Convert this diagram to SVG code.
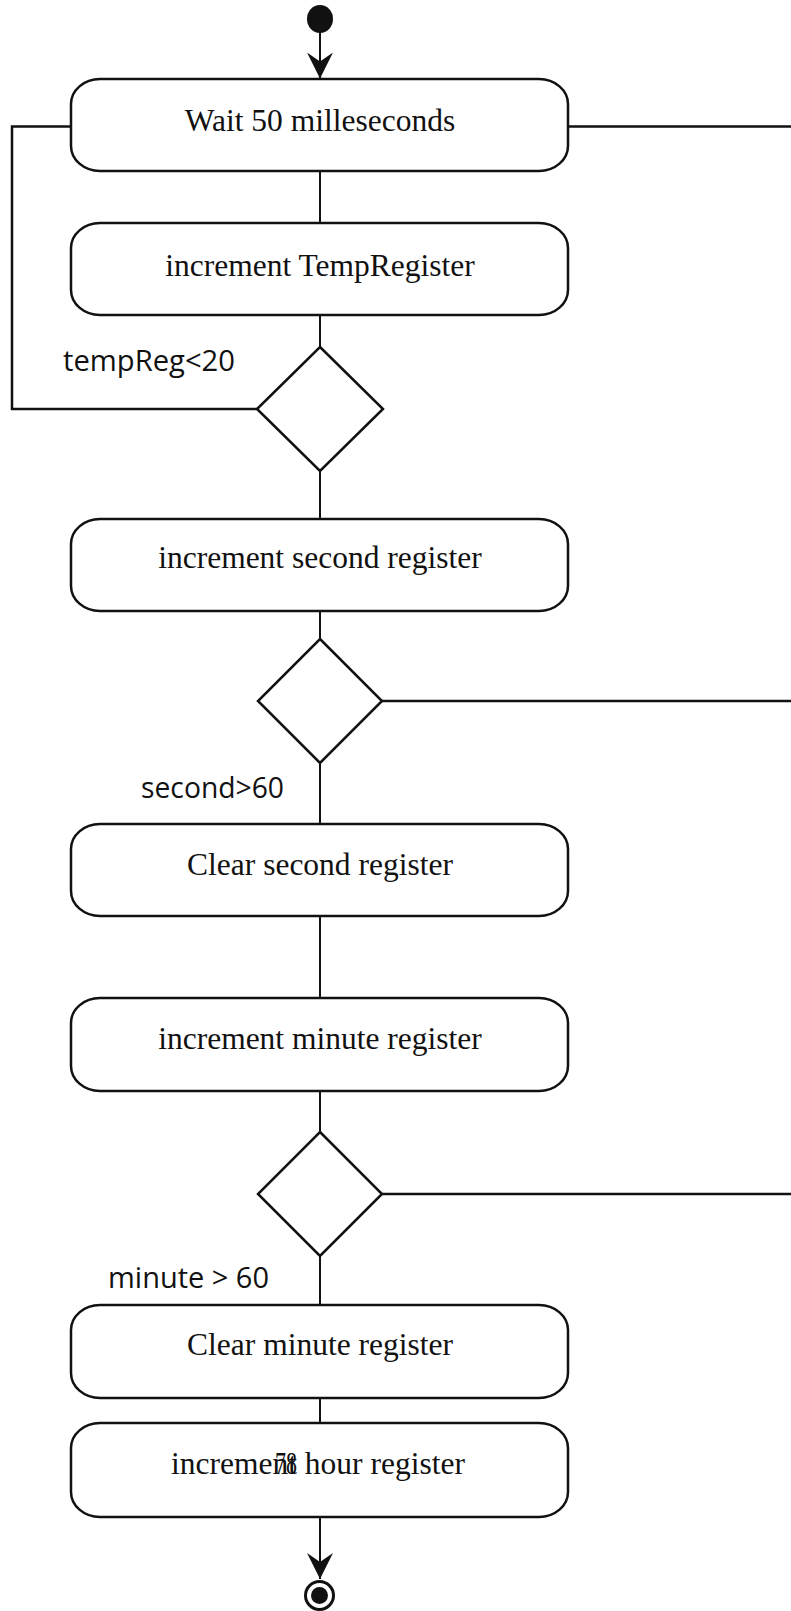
<svg xmlns="http://www.w3.org/2000/svg" width="791" height="1611" viewBox="0 0 791 1611">
  <style>
    .act { fill: #fff; stroke: #111; stroke-width: 2.5; }
    .dec { fill: #fff; stroke: #111; stroke-width: 2.5; }
    .wire { fill: none; stroke: #111; stroke-width: 2.5; }
    .flow { fill: none; stroke: #111; stroke-width: 2; }
    .lbl { font-family: "Liberation Serif", "Times New Roman", serif; font-size: 31.5px; fill: #111; text-anchor: middle; }
    .guard { font-family: "Open Sans", "Liberation Sans", sans-serif; font-size: 29px; fill: #111; }
  </style>
  <defs>
    <marker id="arrow" viewBox="0 -14 27 28" refX="26" refY="0" markerWidth="27" markerHeight="28" markerUnits="userSpaceOnUse" orient="auto">
      <path d="M0,-13 L26,0 L0,13 L9,0 Z" fill="#111"/>
    </marker>
  </defs>
  <rect width="791" height="1611" fill="#fff"/>

  <!-- connectors -->
  <g id="connectors">
    <line class="flow" x1="320" y1="32" x2="320" y2="78.5" marker-end="url(#arrow)"/>
    <line class="flow" x1="320" y1="171" x2="320" y2="223"/>
    <line class="flow" x1="320" y1="315" x2="320" y2="347"/>
    <line class="flow" x1="320" y1="471" x2="320" y2="519"/>
    <line class="flow" x1="320" y1="611" x2="320" y2="639"/>
    <line class="flow" x1="320" y1="763" x2="320" y2="824"/>
    <line class="flow" x1="320" y1="916" x2="320" y2="998"/>
    <line class="flow" x1="320" y1="1091" x2="320" y2="1132"/>
    <line class="flow" x1="320" y1="1256" x2="320" y2="1305"/>
    <line class="flow" x1="320" y1="1398" x2="320" y2="1423"/>
    <line class="flow" x1="320" y1="1517" x2="320" y2="1579" marker-end="url(#arrow)"/>
    <!-- loop back from the first decision to the wait step -->
    <polyline class="wire" points="257,409 12,409 12,126.5 71,126.5"/>
    <!-- exits running off to the right -->
    <line class="wire" x1="568" y1="126.5" x2="791" y2="126.5"/>
    <line class="wire" x1="382" y1="701" x2="791" y2="701"/>
    <line class="wire" x1="382" y1="1194" x2="791" y2="1194"/>
  </g>

  <g id="start">
    <ellipse cx="320" cy="19" rx="13" ry="14" fill="#111"/>
  </g>

  <g id="wait">
    <rect class="act" x="71" y="79" width="497" height="92" rx="29" ry="25"/>
    <text class="lbl" x="320" y="131">Wait 50 milleseconds</text>
  </g>

  <g id="incTemp">
    <rect class="act" x="71" y="223" width="497" height="92" rx="29" ry="25"/>
    <text class="lbl" x="320" y="276">increment TempRegister</text>
  </g>

  <g id="decTemp">
    <polygon class="dec" points="320,347 383,409 320,471 257,409"/>
    <text class="guard" x="63" y="371" textLength="172" lengthAdjust="spacingAndGlyphs">tempReg&lt;20</text>
  </g>

  <g id="incSecond">
    <rect class="act" x="71" y="519" width="497" height="92" rx="29" ry="25"/>
    <text class="lbl" x="320" y="568">increment second register</text>
  </g>

  <g id="decSecond">
    <polygon class="dec" points="320,639 382,701 320,763 258,701"/>
    <text class="guard" x="141" y="798" textLength="143" lengthAdjust="spacingAndGlyphs">second&gt;60</text>
  </g>

  <g id="clearSecond">
    <rect class="act" x="71" y="824" width="497" height="92" rx="29" ry="25"/>
    <text class="lbl" x="320" y="875">Clear second register</text>
  </g>

  <g id="incMinute">
    <rect class="act" x="71" y="998" width="497" height="93" rx="29" ry="25"/>
    <text class="lbl" x="320" y="1049">increment minute register</text>
  </g>

  <g id="decMinute">
    <polygon class="dec" points="320,1132 382,1194 320,1256 258,1194"/>
    <text class="guard" x="108" y="1288" textLength="161" lengthAdjust="spacingAndGlyphs">minute &gt; 60</text>
  </g>

  <g id="clearMinute">
    <rect class="act" x="71" y="1305" width="497" height="93" rx="29" ry="25"/>
    <text class="lbl" x="320" y="1355">Clear minute register</text>
  </g>

  <g id="incHour">
    <rect class="act" x="71" y="1423" width="497" height="94" rx="29" ry="25"/>
    <text class="lbl" x="318" y="1474">increment hour register</text>
    <!-- page number printed over the label -->
    <text class="lbl" x="286" y="1474" font-size="29" textLength="22" lengthAdjust="spacingAndGlyphs">78</text>
  </g>

  <g id="end">
    <circle cx="319.5" cy="1595.5" r="14" fill="#fff" stroke="#111" stroke-width="3"/>
    <circle cx="319.5" cy="1595.5" r="8.5" fill="#111"/>
  </g>
</svg>
